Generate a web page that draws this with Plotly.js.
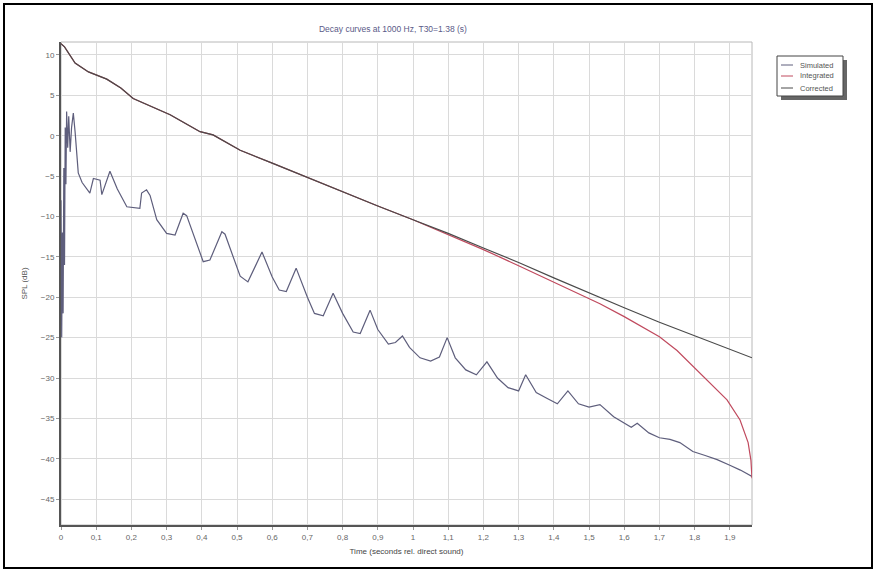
<!DOCTYPE html>
<html>
<head>
<meta charset="utf-8">
<script src="https://cdn.plot.ly/plotly-3.0.1.min.js"></script>
<style>
  html, body { margin: 0; padding: 0; background: #ffffff; }
  #wrap { position: relative; width: 879px; height: 578px; }
  #chart { width: 879px; height: 578px; }
  #frame { position: absolute; left: 3px; top: 3px; width: 866px; height: 562px;
           border: 2px solid #000; pointer-events: none; }
</style>
</head>
<body>
<div id="wrap">
  <div id="chart"></div>
  <div id="frame"></div>
</div>
<script>
// Simulated decay (energy-time curve, dB)
var simT = [0.000, 0.002, 0.004, 0.006, 0.008, 0.010, 0.012, 0.014, 0.016, 0.019,
            0.022, 0.026, 0.030, 0.035, 0.040, 0.045, 0.049, 0.060, 0.082, 0.092,
            0.111, 0.116, 0.139, 0.160, 0.187, 0.224, 0.229, 0.243, 0.253, 0.272,
            0.300, 0.324, 0.347, 0.357, 0.380, 0.404, 0.423, 0.457, 0.466, 0.509,
            0.531, 0.571, 0.600, 0.620, 0.640, 0.668, 0.700, 0.720, 0.745, 0.773,
            0.800, 0.830, 0.850, 0.878, 0.900, 0.930, 0.950, 0.970, 0.990, 1.020,
            1.050, 1.075, 1.097, 1.120, 1.150, 1.180, 1.210, 1.240, 1.270, 1.300,
            1.320, 1.350, 1.380, 1.410, 1.440, 1.470, 1.500, 1.531, 1.570, 1.608,
            1.620, 1.637, 1.670, 1.700, 1.730, 1.758, 1.795, 1.830, 1.864, 1.900,
            1.930, 1.963];
var simDb = [-8.0, -25.0, -12.0, -22.0, -4.0, -16.0, 1.0, -6.0, 3.0, -1.5,
             2.4, -2.0, 1.0, 2.8, 0.5, -2.5, -4.6, -5.8, -7.1, -5.3,
             -5.5, -7.3, -4.4, -6.6, -8.8, -9.0, -7.1, -6.7, -7.4, -10.4,
             -12.1, -12.3, -9.6, -9.9, -12.8, -15.6, -15.4, -11.9, -12.2, -17.4,
             -18.1, -14.4, -17.5, -19.1, -19.3, -16.4, -20.0, -22.0, -22.3, -19.5,
             -22.0, -24.3, -24.5, -21.6, -24.0, -25.8, -25.6, -24.8, -26.2, -27.5,
             -27.9, -27.4, -25.0, -27.5, -29.0, -29.6, -28.0, -30.0, -31.2, -31.6,
             -29.6, -31.8, -32.5, -33.2, -31.6, -33.2, -33.6, -33.3, -34.8, -35.8,
             -36.1, -35.6, -36.8, -37.4, -37.6, -38.0, -39.1, -39.6, -40.1, -40.8,
             -41.4, -42.2];

// Backward-integrated decay (dB)
var intT = [0.000, 0.010, 0.040, 0.078, 0.130, 0.170, 0.205, 0.250, 0.310, 0.350,
            0.395, 0.432, 0.509, 0.600, 0.700, 0.800, 0.900, 1.000, 1.100, 1.200,
            1.300, 1.400, 1.500, 1.531, 1.600, 1.700, 1.750, 1.815, 1.850, 1.892,
            1.929, 1.952, 1.960, 1.963];
var intDb = [11.4, 11.0, 9.0, 7.9, 7.0, 5.9, 4.6, 3.7, 2.6, 1.6,
             0.5, 0.1, -1.8, -3.4, -5.2, -7.0, -8.7, -10.4, -12.2, -14.1,
             -16.1, -18.1, -20.2, -20.8, -22.4, -24.9, -26.6, -29.4, -31.0, -32.7,
             -35.2, -38.0, -40.2, -42.4];

// Integrated decay with truncation correction (dB)
var corT = [0.000, 0.010, 0.040, 0.078, 0.130, 0.170, 0.205, 0.250, 0.310, 0.350,
            0.395, 0.432, 0.509, 0.600, 0.700, 0.800, 0.900, 1.000, 1.100, 1.200,
            1.300, 1.400, 1.500, 1.600, 1.700, 1.800, 1.900, 1.963];
var corDb = [11.4, 11.0, 9.0, 7.9, 7.0, 5.9, 4.6, 3.7, 2.6, 1.6,
             0.5, 0.1, -1.8, -3.4, -5.2, -7.0, -8.7, -10.4, -12.1, -13.9,
             -15.7, -17.6, -19.5, -21.3, -23.1, -24.8, -26.5, -27.5];

var seriesNames = ['Simulated', 'Integrated', 'Corrected'];
var seriesColors = ['#5e5e7c', '#c04a5e', '#4a4a4a'];
var xTickVals = [0, 0.1, 0.2, 0.3, 0.4, 0.5, 0.6, 0.7, 0.8, 0.9, 1, 1.1, 1.2, 1.3, 1.4, 1.5, 1.6, 1.7, 1.8, 1.9];
var yTickVals = [10, 5, 0, -5, -10, -15, -20, -25, -30, -35, -40, -45];

var font = 'Liberation Sans, Arial, sans-serif';

var traces = [
  { x: simT, y: simDb, name: seriesNames[0], type: 'scatter', mode: 'lines',
    line: { color: seriesColors[0], width: 1.2 } },
  { x: intT, y: intDb, name: seriesNames[1], type: 'scatter', mode: 'lines',
    line: { color: seriesColors[1], width: 1.2 } },
  { x: corT, y: corDb, name: seriesNames[2], type: 'scatter', mode: 'lines',
    line: { color: seriesColors[2], width: 1.2 } }
];

// plot area in pixels: x 61..752, y 42..525
var L = 61, R = 752, T = 42, B = 525;
function px(x) { return (x - L) / (R - L); }
function py(y) { return (B - y) / (B - T); }

// compact boxed legend with a drop shadow, to the right of the plot
var legBox = { x0: 777, x1: 843, y0: 56, y1: 96 };
var shapes = [
  { type: 'rect', xref: 'paper', yref: 'paper', x0: 0, x1: 1, y0: 0, y1: 1,
    line: { color: '#b8b8b8', width: 1 }, layer: 'below' },
  { type: 'rect', xref: 'paper', yref: 'paper',
    x0: px(legBox.x0 + 4), x1: px(legBox.x1 + 4), y0: py(legBox.y1 + 4), y1: py(legBox.y0 + 4),
    fillcolor: '#666666', line: { width: 0 } },
  { type: 'rect', xref: 'paper', yref: 'paper',
    x0: px(legBox.x0), x1: px(legBox.x1), y0: py(legBox.y1), y1: py(legBox.y0),
    fillcolor: '#ffffff', line: { color: '#444444', width: 1 } }
];
var annotations = [];
var rowY = [65, 76, 88];
seriesNames.forEach(function (name, i) {
  shapes.push({ type: 'line', xref: 'paper', yref: 'paper',
    x0: px(781), x1: px(793), y0: py(rowY[i]), y1: py(rowY[i]),
    line: { color: seriesColors[i], width: 1 } });
  annotations.push({ xref: 'paper', yref: 'paper', x: px(798), y: py(rowY[i]),
    xanchor: 'left', yanchor: 'middle', showarrow: false, text: name,
    font: { family: font, size: 7.5, color: '#555555' } });
});

var layout = {
  width: 879, height: 578,
  margin: { l: L, r: 879 - R, t: T, b: 578 - B },
  paper_bgcolor: '#ffffff', plot_bgcolor: '#ffffff',
  separators: ', ',
  font: { family: font, size: 8, color: '#666666' },
  title: { text: 'Decay curves at 1000 Hz, T30=1.38 (s)',
           font: { family: font, size: 8.5, color: '#5a5a88' },
           x: 0.447, xanchor: 'center', y: 1 - 29 / 578, yanchor: 'middle' },
  xaxis: {
    range: [0, 1.963], tickvals: xTickVals, tickformat: '.1~f',
    showgrid: true, gridcolor: '#dadada', gridwidth: 1,
    showline: true, linecolor: '#555555', linewidth: 2,
    zeroline: false, ticks: 'outside', ticklen: 3, tickcolor: '#999999',
    tickfont: { family: font, size: 8, color: '#666666' },
    title: { text: 'Time (seconds rel. direct sound)', standoff: 8,
             font: { family: font, size: 8, color: '#444444' } }
  },
  yaxis: {
    range: [-48.2, 11.6], tickvals: yTickVals,
    showgrid: true, gridcolor: '#dadada', gridwidth: 1,
    showline: true, linecolor: '#555555', linewidth: 2,
    zeroline: false, ticks: 'outside', ticklen: 3, tickcolor: '#999999',
    tickfont: { family: font, size: 8, color: '#666666' },
    title: { text: 'SPL (dB)', standoff: 12,
             font: { family: font, size: 8, color: '#555555' } }
  },
  showlegend: false,
  shapes: shapes,
  annotations: annotations
};

Plotly.newPlot('chart', traces, layout, { displayModeBar: false, staticPlot: true });
</script>
</body>
</html>
